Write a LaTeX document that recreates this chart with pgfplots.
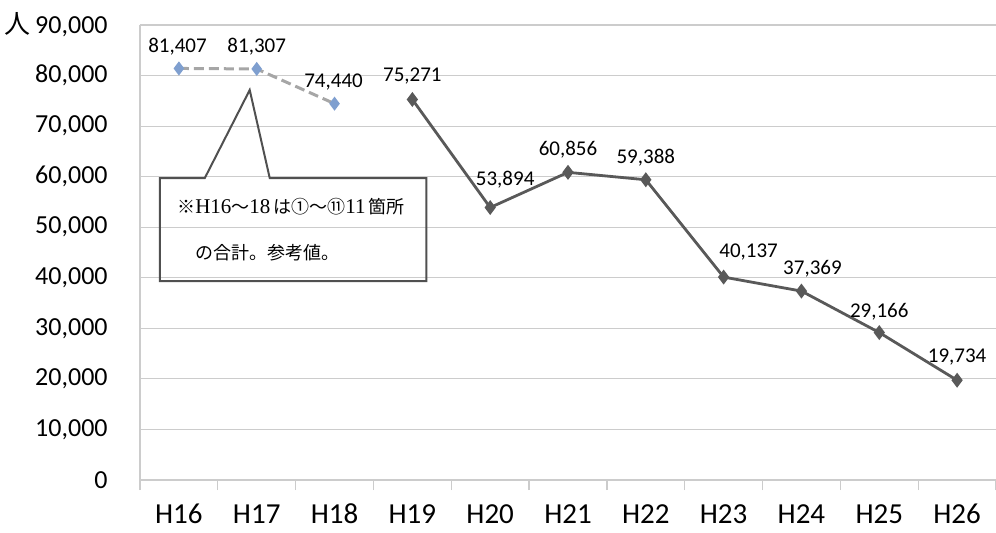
\documentclass[border=0pt]{standalone}
\usepackage{fontspec}
\setmainfont{Carlito}
\newfontfamily\cjk{Noto Sans CJK JP}
\newfontfamily\tms{Liberation Serif}
\usepackage{pgfplots}
\usepackage{pgfplotstable}
\pgfplotsset{compat=1.18}
\definecolor{gridc}{HTML}{CCCCCC}
\definecolor{dk}{HTML}{595959}
\definecolor{bl}{HTML}{7F9FCF}
\definecolor{dsh}{HTML}{A6A6A6}
\definecolor{boxc}{HTML}{505050}

\pgfplotstableread{
x y lab dx dy
0 81407 81,407 -0.7 11
1 81307 81,307 0 11
2 74440 74,440 -0.5 11
}\refdata
\pgfplotstableread{
x y lab dx dy
3 75271 75,271 0 11.5
4 53894 53,894 7.5 14
5 60856 60,856 0 11.5
6 59388 59,388 0 11
7 40137 40,137 12.5 12.5
8 37369 37,369 5.5 11
9 29166 29,166 0 10.5
10 19734 19,734 0 11.5
}\maindata

\begin{document}
\begin{tikzpicture}
\begin{axis}[
  scale only axis, width=428pt, height=227.5pt,
  xmin=-0.5, xmax=10.5, ymin=0, ymax=90000,
  scaled y ticks=false,
  axis x line=bottom, axis y line=left,
  axis line style={gridc, line width=0.6pt, -},
  xtick={-0.5,0.5,...,10.5}, x tick label as interval,
  xticklabels={H16,H17,H18,H19,H20,H21,H22,H23,H24,H25,H26},
  ytick={0,10000,...,90000},
  yticklabels={0,{10,000},{20,000},{30,000},{40,000},{50,000},{60,000},{70,000},{80,000},{{\cjk 人}\,90,000}},
  tick align=outside, major tick length=5pt,
  x tick style={gridc, line width=0.6pt},
  y tick style={draw=none},
  ymajorgrids, major grid style={gridc, line width=0.6pt},
  xticklabel style={font=\fontsize{14.5}{14.5}\selectfont, anchor=north, inner sep=0pt, text height=9.4pt, text depth=0pt, yshift=-7pt},
  yticklabel style={font=\fontsize{13}{13}\selectfont, anchor=east, inner sep=0pt, xshift=-11pt},
  clip=false,
]
\addplot[dsh, line width=1.5pt, dash pattern=on 5pt off 2.5pt, mark=diamond*, mark size=2.3pt, mark options={solid, fill=bl, draw=bl},
  point meta=explicit symbolic,
  visualization depends on={\thisrow{dx}\as\dx},
  visualization depends on={\thisrow{dy}\as\dy},
  nodes near coords,
  every node near coord/.append style={font=\fontsize{10.5}{10.5}\selectfont, text=black, anchor=center, xshift=\dx, yshift=\dy}]
  table[x=x, y=y, meta=lab]{\refdata};
\addplot[dk, line width=1.4pt, mark=diamond*, mark size=2.6pt, mark options={solid, fill=dk, draw=dk},
  point meta=explicit symbolic,
  visualization depends on={\thisrow{dx}\as\dx},
  visualization depends on={\thisrow{dy}\as\dy},
  nodes near coords,
  every node near coord/.append style={font=\fontsize{10.5}{10.5}\selectfont, text=black, anchor=center, xshift=\dx, yshift=\dy}]
  table[x=x, y=y, meta=lab]{\maindata};
\draw[boxc, line width=1pt] (axis cs:0.333,59736) -- (axis cs:0.910,77143) -- (axis cs:1.167,59736) -- (axis cs:3.18,59736) -- (axis cs:3.18,39363) -- (axis cs:-0.244,39363) -- (axis cs:-0.244,59736) -- cycle;
\node[anchor=west, inner sep=0pt, font=\fontsize{9}{9}\selectfont] at (axis cs:-0.026,54000) {{\cjk ※}{\tms\fontsize{10.5}{10.5}\selectfont H16}{\cjk ～}{\tms\fontsize{10.5}{10.5}\selectfont 18}\,{\cjk は①～⑪}{\tms\fontsize{10.5}{10.5}\selectfont 11}\,{\cjk 箇所}};
\node[anchor=west, inner sep=0pt, font=\fontsize{9}{9}\selectfont] at (axis cs:0.205,44901) {{\cjk の合計。参考値。}};
\coordinate (bl) at (rel axis cs:0,0);
\coordinate (tr) at (rel axis cs:1,1);
\end{axis}
\pgfresetboundingbox
\path[use as bounding box] ([xshift=-70pt,yshift=-26pt]bl) rectangle ([yshift=12.5pt]tr);
\end{tikzpicture}
\end{document}
